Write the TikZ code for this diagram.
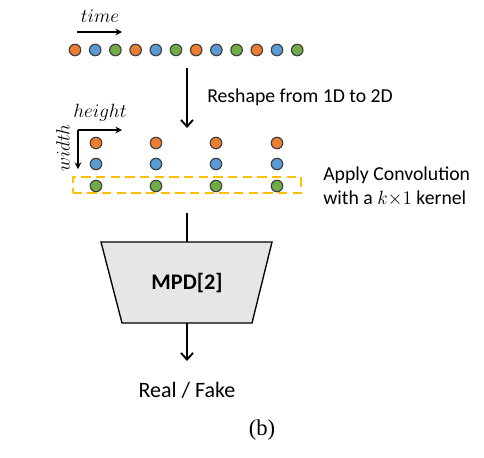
\documentclass[tikz,border=0pt]{standalone}
\usepackage{fontspec}
\setmainfont{Carlito}
\newfontfamily\capfont{Liberation Serif}
\usetikzlibrary{arrows.meta}

\definecolor{dotorange}{RGB}{237,125,49}
\definecolor{dotblue}{RGB}{91,155,213}
\definecolor{dotgreen}{RGB}{112,173,71}
\definecolor{dotline}{RGB}{64,64,64}
\definecolor{kernelbox}{RGB}{255,192,0}
\definecolor{mpdfill}{RGB}{230,230,230}

\tikzset{
  dot/.style={circle,draw=dotline,line width=0.9pt,minimum size=8.6pt,inner sep=0pt},
  od/.style={dot,fill=dotorange},
  bd/.style={dot,fill=dotblue},
  gd/.style={dot,fill=dotgreen},
  flow/.style={line width=1.4pt,-{Straight Barb[length=5pt,width=9pt,line width=1.4pt]}},
  axis/.style={line width=1.2pt,-{Stealth[length=5pt,width=5pt]}},
  label/.style={inner sep=0.75pt,font=\fontsize{14.8}{18}\selectfont},
  axislabel/.style={font=\fontsize{13.5}{16}\selectfont}
}

\begin{document}
\begin{tikzpicture}[x=0.75pt,y=0.75pt,yscale=-1,xscale=1]
\useasboundingbox (0,0) rectangle (484,457);

% Text Node
\node [axislabel] (time) at (100,16) {$time$};
\coordinate (timeA) at (77,32);
\coordinate (timeB) at (122,32);
\draw [axis] (timeA) -- (timeB);

%Shape: Circle, 1D signal
\node [od] (t1) at (75,50) {};
\node [bd] (t2) at (95.2,50) {};
\node [gd] (t3) at (115.4,50) {};
\node [od] (t4) at (135.6,50) {};
\node [bd] (t5) at (155.8,50) {};
\node [gd] (t6) at (176,50) {};
\node [od] (t7) at (196.2,50) {};
\node [bd] (t8) at (216.4,50) {};
\node [gd] (t9) at (236.6,50) {};
\node [od] (t10) at (256.8,50) {};
\node [bd] (t11) at (277,50) {};
\node [gd] (t12) at (297.2,50) {};

%Straight Lines [reshape]
\coordinate (reshapeA) at (187,68);
\coordinate (reshapeB) at (187,128);
\draw [flow] (reshapeA) -- (reshapeB);
\node [label,anchor=west] (reshape) at (206,97) {Reshape from 1D to 2D};

% Text Node
\coordinate (corner) at (78,130);
\coordinate (heightB) at (122,130);
\coordinate (widthB) at (78,169);
\draw [axis] (corner) -- (heightB);
\draw [axis] (corner) -- (widthB);
\node [axislabel] (height) at (100,113) {$height$};
\node [axislabel,rotate=90] (width) at (63,148) {$width$};

%Shape: Circle, 2D grid
\node [od] (g11) at (96,143) {};
\node [bd] (g12) at (96,164) {};
\node [gd] (g13) at (96,186) {};
\node [od] (g21) at (156,143) {};
\node [bd] (g22) at (156,164) {};
\node [gd] (g23) at (156,186) {};
\node [od] (g31) at (216,143) {};
\node [bd] (g32) at (216,164) {};
\node [gd] (g33) at (216,186) {};
\node [od] (g41) at (277,143) {};
\node [bd] (g42) at (277,164) {};
\node [gd] (g43) at (277,186) {};

%Shape: Rectangle [kernel]
\node [draw=kernelbox,line width=1.5pt,dash pattern=on 7pt off 4pt,minimum width=171pt,minimum height=12.5pt,inner sep=0pt] (kernel) at (186.5,185) {};
\node [label,anchor=west,align=left] (conv) at (322,186) {Apply Convolution\\with a $k{\times}1$ kernel};

%Shape: Trapezoid [MPD]
\coordinate (mpdTL) at (101,242);
\coordinate (mpdTR) at (272,242);
\coordinate (mpdBR) at (252,323);
\coordinate (mpdBL) at (122,323);
\draw [line width=1pt,fill=mpdfill] (mpdTL) -- (mpdTR) -- (mpdBR) -- (mpdBL) -- cycle;
\node [font=\bfseries\fontsize{16.7}{20}\selectfont] (mpd) at (187,283) {MPD[2]};
\coordinate (gridout) at (187,213);
\coordinate (mpdtop) at (187,242);
\coordinate (mpdbot) at (187,323);
\draw [line width=1.4pt] (gridout) -- (mpdtop);

\coordinate (outB) at (187,361);
\draw [flow] (mpdbot) -- (outB);
\node [label,font=\fontsize{16.5}{20}\selectfont] (out) at (187,390) {Real / Fake};

% Text Node
\node (cap) at (262,430) {\capfont\fontsize{17}{20}\selectfont(b)};

\end{tikzpicture}
\end{document}
